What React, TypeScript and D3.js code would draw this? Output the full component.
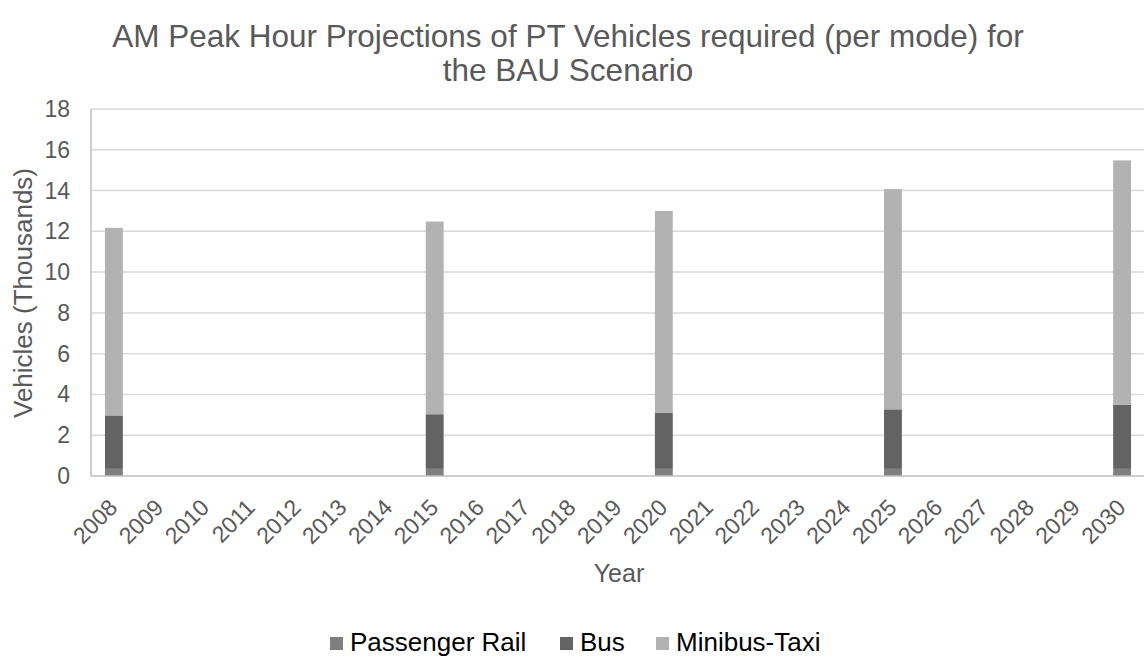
import * as d3 from "d3";
import React, { useRef, useEffect } from "react";

const years = d3.range(2008, 2031).map(String);
const dataYears = ["2008", "2015", "2020", "2025", "2030"];
const rail = [0.35, 0.35, 0.35, 0.35, 0.35];
const bus = [2.62, 2.68, 2.75, 2.92, 3.15];
const minibus = [9.2, 9.45, 9.9, 10.8, 11.98];
const seriesNames = ["Passenger Rail", "Bus", "Minibus-Taxi"];
const colors = ["#7f7f7f", "#636363", "#b2b2b2"];
const yTicks = [0, 2, 4, 6, 8, 10, 12, 14, 16, 18];
const titleLines = ["AM Peak Hour Projections of PT Vehicles required (per mode) for", "the BAU Scenario"];

const W = 1144;
const H = 658;
const FONT = "'Liberation Sans', Arial, sans-serif";

function App() {
  const ref = useRef(null);

  useEffect(() => {
    const svg = d3.select(ref.current);
    svg.selectAll("*").remove();

    const left = 91, right = 1145, top = 109, bottom = 476;

    const x = d3.scaleBand().domain(years).range([left, right]).paddingInner(0.61).paddingOuter(0.305);
    const y = d3.scaleLinear().domain([0, 18]).range([bottom, top]);

    const rows = dataYears.map((yr, i) => ({ year: yr, rail: rail[i], bus: bus[i], minibus: minibus[i] }));
    const stack = d3.stack().keys(["rail", "bus", "minibus"]);
    const layers = stack(rows as any);

    // title, two lines
    svg.append("g").selectAll("text")
      .data(titleLines)
      .enter().append("text")
      .attr("x", 568).attr("y", (d, i) => 47 + i * 34)
      .attr("text-anchor", "middle")
      .attr("fill", "#595959")
      .style("font-family", FONT)
      .style("font-size", "31.5px")
      .text((d) => d);

    // gridlines
    svg.append("g").selectAll("line")
      .data(yTicks.filter((t) => t > 0))
      .enter().append("line")
      .attr("x1", left).attr("x2", right)
      .attr("y1", (d) => y(d)).attr("y2", (d) => y(d))
      .attr("stroke", "#d9d9d9").attr("stroke-width", 1.5);

    // bars
    svg.append("g").selectAll("g")
      .data(layers)
      .enter().append("g")
      .attr("fill", (d, i) => colors[i])
      .selectAll("rect")
      .data((d) => d)
      .enter().append("rect")
      .attr("x", (d: any) => x(d.data.year))
      .attr("width", x.bandwidth())
      .attr("y", (d) => y(d[1]))
      .attr("height", (d) => y(d[0]) - y(d[1]));

    // axis lines
    svg.append("line").attr("x1", left).attr("x2", left).attr("y1", top).attr("y2", bottom)
      .attr("stroke", "#bfbfbf").attr("stroke-width", 1.5);
    svg.append("line").attr("x1", left).attr("x2", right).attr("y1", bottom).attr("y2", bottom)
      .attr("stroke", "#bfbfbf").attr("stroke-width", 1.5);

    // y labels
    svg.append("g").selectAll("text")
      .data(yTicks)
      .enter().append("text")
      .attr("x", 70).attr("y", (d) => y(d) + 8)
      .attr("text-anchor", "end")
      .attr("fill", "#595959")
      .style("font-family", FONT).style("font-size", "23px")
      .text((d) => d);

    // x labels
    svg.append("g").selectAll("text")
      .data(years)
      .enter().append("text")
      .attr("text-anchor", "end")
      .attr("transform", (d) => "translate(" + (x(d) + x.bandwidth() / 2 + 5) + "," + 509 + ") rotate(-45)")
      .attr("fill", "#595959")
      .style("font-family", FONT).style("font-size", "23px")
      .text((d) => d);

    // axis titles
    svg.append("text")
      .attr("x", 619).attr("y", 582)
      .attr("text-anchor", "middle")
      .attr("fill", "#595959")
      .style("font-family", FONT).style("font-size", "25px")
      .text("Year");
    svg.append("text")
      .attr("transform", "translate(32,293) rotate(-90)")
      .attr("text-anchor", "middle")
      .attr("fill", "#595959")
      .style("font-family", FONT).style("font-size", "26px")
      .text("Vehicles (Thousands)");

    // legend
    const legendX = [330, 560, 656];
    const lg = svg.append("g").selectAll("g")
      .data(seriesNames)
      .enter().append("g")
      .attr("transform", (d, i) => "translate(" + legendX[i] + ",637)");
    lg.append("rect").attr("width", 13).attr("height", 13).attr("fill", (d, i) => colors[i]);
    lg.append("text").attr("x", 20).attr("y", 14)
      .attr("fill", "#000")
      .style("font-family", FONT).style("font-size", "26px")
      .text((d) => d);
  }, []);

  return (
    <svg ref={ref} width={W} height={H} style={{ position: "absolute", left: 0, top: 0, background: "#fff" }}></svg>
  );
}

export default App;
